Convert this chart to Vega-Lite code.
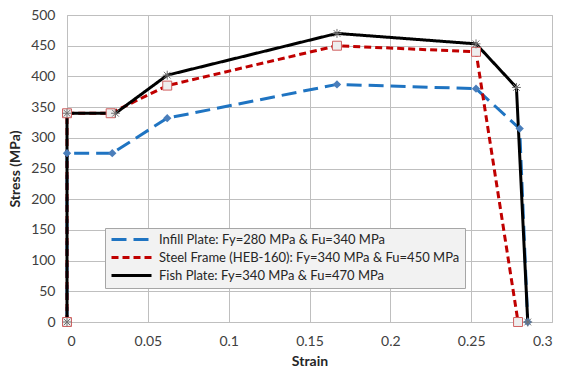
{
  "$schema": "https://vega.github.io/schema/vega-lite/v6.json",
  "width": 561,
  "height": 376,
  "autosize": {"type": "fit", "contains": "padding"},
  "padding": {"left": 8, "top": 8, "right": 9, "bottom": 8},
  "background": "white",
  "config": {
    "font": "Lato",
    "view": {"stroke": "#bfbfbf"},
    "axis": {"labelFont": "Lato", "titleFont": "Lato", "labelFontSize": 14, "titleFontSize": 14, "labelColor": "#404040", "titleColor": "#262626", "gridColor": "#bfbfbf", "domain": false, "ticks": false, "labelPadding": 12}
  },
  "data": {
    "values": [
      {"series": "Infill Plate: Fy=280 MPa & Fu=340 MPa", "idx": 0, "strain": 0, "stress": 0},
      {"series": "Infill Plate: Fy=280 MPa & Fu=340 MPa", "idx": 1, "strain": 0, "stress": 275},
      {"series": "Infill Plate: Fy=280 MPa & Fu=340 MPa", "idx": 2, "strain": 0.028, "stress": 275},
      {"series": "Infill Plate: Fy=280 MPa & Fu=340 MPa", "idx": 3, "strain": 0.062, "stress": 332},
      {"series": "Infill Plate: Fy=280 MPa & Fu=340 MPa", "idx": 4, "strain": 0.167, "stress": 387},
      {"series": "Infill Plate: Fy=280 MPa & Fu=340 MPa", "idx": 5, "strain": 0.253, "stress": 380},
      {"series": "Infill Plate: Fy=280 MPa & Fu=340 MPa", "idx": 6, "strain": 0.28, "stress": 315},
      {"series": "Infill Plate: Fy=280 MPa & Fu=340 MPa", "idx": 7, "strain": 0.285, "stress": 0},
      {"series": "Steel Frame (HEB-160): Fy=340 MPa & Fu=450 MPa", "idx": 0, "strain": 0, "stress": 0},
      {"series": "Steel Frame (HEB-160): Fy=340 MPa & Fu=450 MPa", "idx": 1, "strain": 0, "stress": 340},
      {"series": "Steel Frame (HEB-160): Fy=340 MPa & Fu=450 MPa", "idx": 2, "strain": 0.027, "stress": 340},
      {"series": "Steel Frame (HEB-160): Fy=340 MPa & Fu=450 MPa", "idx": 3, "strain": 0.062, "stress": 385},
      {"series": "Steel Frame (HEB-160): Fy=340 MPa & Fu=450 MPa", "idx": 4, "strain": 0.167, "stress": 450},
      {"series": "Steel Frame (HEB-160): Fy=340 MPa & Fu=450 MPa", "idx": 5, "strain": 0.253, "stress": 440},
      {"series": "Steel Frame (HEB-160): Fy=340 MPa & Fu=450 MPa", "idx": 6, "strain": 0.279, "stress": 0},
      {"series": "Fish Plate: Fy=340 MPa & Fu=470 MPa", "idx": 0, "strain": 0, "stress": 0},
      {"series": "Fish Plate: Fy=340 MPa & Fu=470 MPa", "idx": 1, "strain": 0, "stress": 340},
      {"series": "Fish Plate: Fy=340 MPa & Fu=470 MPa", "idx": 2, "strain": 0.03, "stress": 340},
      {"series": "Fish Plate: Fy=340 MPa & Fu=470 MPa", "idx": 3, "strain": 0.062, "stress": 402},
      {"series": "Fish Plate: Fy=340 MPa & Fu=470 MPa", "idx": 4, "strain": 0.167, "stress": 470},
      {"series": "Fish Plate: Fy=340 MPa & Fu=470 MPa", "idx": 5, "strain": 0.253, "stress": 453},
      {"series": "Fish Plate: Fy=340 MPa & Fu=470 MPa", "idx": 6, "strain": 0.278, "stress": 382},
      {"series": "Fish Plate: Fy=340 MPa & Fu=470 MPa", "idx": 7, "strain": 0.285, "stress": 0}
    ]
  },
  "encoding": {
    "x": {"field": "strain", "type": "quantitative", "title": "Strain", "scale": {"domain": [0, 0.3], "nice": false}, "axis": {"values": [0, 0.05, 0.1, 0.15, 0.2, 0.25, 0.3], "format": "~g", "titleFontWeight": "bold", "titlePadding": 6}},
    "y": {"field": "stress", "type": "quantitative", "title": "Stress (MPa)", "scale": {"domain": [0, 500], "nice": false}, "axis": {"values": [0, 50, 100, 150, 200, 250, 300, 350, 400, 450, 500], "titleFontWeight": "bold", "titlePadding": 8}}
  },
  "layer": [
    {
      "mark": {"type": "line", "strokeWidth": 3, "strokeCap": "butt"},
      "encoding": {
        "order": {"field": "idx"},
        "color": {"field": "series", "type": "nominal", "title": null,
          "scale": {"domain": ["Infill Plate: Fy=280 MPa & Fu=340 MPa", "Steel Frame (HEB-160): Fy=340 MPa & Fu=450 MPa", "Fish Plate: Fy=340 MPa & Fu=470 MPa"], "range": ["#1f74c2", "#c00000", "#000000"]},
          "legend": {"orient": "none", "legendX": 38, "legendY": 213, "symbolType": "M-1,0L7,0", "symbolSize": 100, "symbolStrokeWidth": 3, "symbolFillColor": "transparent", "labelOffset": 36, "labelFontSize": 13, "labelColor": "#262626", "fillColor": "#f2f2f2", "strokeColor": "#a6a6a6", "padding": 5, "rowPadding": 4, "labelLimit": 400}},
        "strokeDash": {"field": "series", "type": "nominal", "title": null,
          "scale": {"domain": ["Infill Plate: Fy=280 MPa & Fu=340 MPa", "Steel Frame (HEB-160): Fy=340 MPa & Fu=450 MPa", "Fish Plate: Fy=340 MPa & Fu=470 MPa"], "range": [[15, 7], [7, 4], [1, 0]]}}
      }
    },
    {
      "transform": [{"filter": "datum.series == 'Infill Plate: Fy=280 MPa & Fu=340 MPa'"}],
      "mark": {"type": "point", "shape": "diamond", "size": 70, "filled": true, "color": "#4a7ebb", "opacity": 1}
    },
    {
      "transform": [{"filter": "datum.series == 'Steel Frame (HEB-160): Fy=340 MPa & Fu=450 MPa'"}],
      "mark": {"type": "point", "shape": "square", "size": 80, "fill": "#eeeeee", "stroke": "#d06060", "strokeWidth": 1, "opacity": 1}
    },
    {
      "transform": [{"filter": "datum.series == 'Fish Plate: Fy=340 MPa & Fu=470 MPa'"}],
      "mark": {"type": "point", "shape": "M-1,0L1,0M0,-1L0,1M-0.75,-0.75L0.75,0.75M-0.75,0.75L0.75,-0.75", "size": 80, "filled": false, "stroke": "#707070", "strokeWidth": 1, "opacity": 1}
    }
  ]
}
